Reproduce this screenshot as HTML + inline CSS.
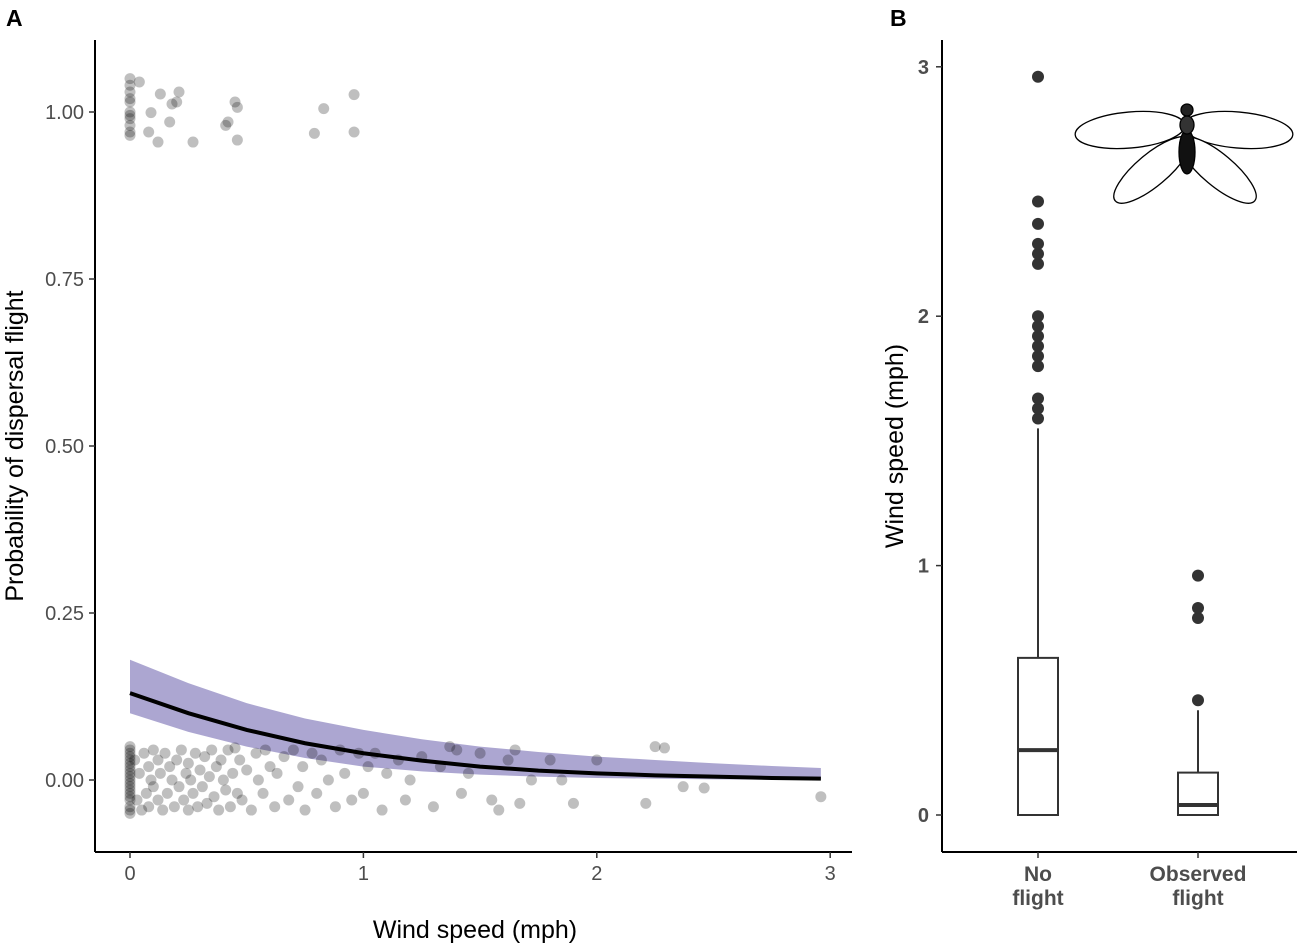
<!DOCTYPE html>
<html><head><meta charset="utf-8"><style>
body{margin:0;background:#fff}
svg{display:block;font-family:"Liberation Sans",Arial,sans-serif}
</style></head><body>
<svg id="chart" width="1299" height="945" viewBox="0 0 1299 945">
<g id="panelA"></g>
<g id="panelB"></g>
</svg>
<script>
// Panel A data
const xTicksA=[0,1,2,3];
const yTicksA=[0,0.25,0.5,0.75,1];
const yTickLabelsA=["0.00","0.25","0.50","0.75","1.00"];
const curveX=[0,0.25,0.5,0.75,1,1.25,1.5,1.75,2,2.25,2.5,2.75,2.96];
const curveFit=[0.13,0.10,0.075,0.055,0.04,0.029,0.02,0.014,0.01,0.007,0.005,0.003,0.002];
const curveUpper=[0.18,0.145,0.115,0.092,0.075,0.061,0.05,0.042,0.035,0.03,0.025,0.021,0.018];
const curveLower=[0.10,0.072,0.05,0.033,0.02,0.013,0.008,0.005,0.003,0.002,0.001,0.0005,0.0002];
const flightX=[0,0,0,0,0,0,0,0,0,0,0,0.04,0.08,0.09,0.12,0.13,0.17,0.18,0.2,0.21,0.27,0.41,0.42,0.45,0.46,0.46,0.79,0.83,0.96,0.96];
const flightY=[1.05,1.04,1.02,1.015,1.0,0.99,0.98,0.97,0.965,1.03,0.995,1.045,0.97,0.999,0.955,1.027,0.985,1.012,1.015,1.03,0.955,0.98,0.985,1.015,1.007,0.958,0.968,1.005,1.026,0.97];
const noFlightX=[0,0,0,0,0,0,0,0,0,0,0,0,0,0,0,0,0,0,0,0,0.02,0.03,0.04,0.05,0.06,0.07,0.08,0.08,0.09,0.1,0.1,0.12,0.12,0.13,0.14,0.15,0.16,0.17,0.18,0.19,0.2,0.21,0.22,0.23,0.24,0.25,0.25,0.26,0.27,0.28,0.29,0.3,0.31,0.32,0.33,0.34,0.35,0.36,0.37,0.38,0.39,0.4,0.41,0.42,0.43,0.44,0.45,0.46,0.47,0.48,0.5,0.52,0.54,0.55,0.57,0.58,0.6,0.62,0.63,0.66,0.68,0.7,0.72,0.74,0.75,0.78,0.8,0.82,0.85,0.88,0.9,0.92,0.95,0.98,1.0,1.02,1.05,1.08,1.1,1.15,1.18,1.2,1.25,1.3,1.33,1.37,1.4,1.42,1.45,1.5,1.55,1.58,1.62,1.65,1.67,1.72,1.8,1.85,1.9,2.0,2.21,2.25,2.29,2.37,2.46,2.96];
const noFlightY=[0.05,0.04,0.03,0.02,0.01,0,-0.01,-0.02,-0.03,-0.04,-0.05,0.045,0.035,0.025,0.015,0.005,-0.005,-0.015,-0.025,-0.045,0.03,-0.03,0.01,-0.045,0.04,-0.02,0.02,-0.04,0.0,0.045,-0.01,0.03,-0.03,0.01,-0.045,0.04,-0.02,0.02,0.0,-0.04,0.03,-0.01,0.045,-0.03,0.01,-0.045,0.025,0.0,-0.02,0.04,-0.04,0.015,-0.01,0.035,-0.035,0.005,0.045,-0.025,0.02,-0.045,0.03,0.0,-0.015,0.045,-0.04,0.01,0.048,-0.02,0.03,-0.03,0.015,-0.045,0.04,0.0,-0.02,0.045,0.02,-0.04,0.01,0.035,-0.03,0.045,-0.01,0.02,-0.045,0.04,-0.02,0.03,0.0,-0.04,0.045,0.01,-0.03,0.04,-0.02,0.02,0.04,-0.045,0.01,0.03,-0.03,0.0,0.035,-0.04,0.02,0.05,0.045,-0.02,0.01,0.04,-0.03,-0.045,0.03,0.045,-0.035,0.0,0.03,0.0,-0.035,0.03,-0.035,0.05,0.048,-0.01,-0.012,-0.025];
// Panel B data
const categoriesB=["No\nflight","Observed\nflight"];
const yTicksB=[0,1,2,3];
const boxQ1=[0,0];
const boxMedian=[0.26,0.04];
const boxQ3=[0.63,0.17];
const whiskerLow=[0,0];
const whiskerHigh=[1.55,0.42];
const outliersNo=[1.59,1.63,1.67,1.8,1.84,1.88,1.92,1.96,2.0,2.21,2.25,2.29,2.37,2.46,2.96];
const outliersObs=[0.46,0.79,0.83,0.96];

const NS="http://www.w3.org/2000/svg";
function mk(parent,tag,attrs,name,text){
  const el=document.createElementNS(NS,tag);
  for(const k in attrs) el.setAttribute(k,attrs[k]);
  
  
  if(text!==undefined) el.textContent=text;
  parent.appendChild(el);return el;
}
const A=document.getElementById('panelA');
const xA=v=>130+v*233.4;
const yA=v=>780-v*668;
let bp="";
curveX.forEach((x,i)=>bp+=(i?"L":"M")+xA(x)+","+yA(curveUpper[i]));
for(let i=curveX.length-1;i>=0;i--) bp+="L"+xA(curveX[i])+","+yA(curveLower[i]);
mk(A,'path',{d:bp+"Z",fill:"#9d97c9",opacity:0.85},'confidence-band');
const nN=Math.min(noFlightX.length,noFlightY.length);
for(let i=0;i<nN;i++) mk(A,'circle',{cx:xA(noFlightX[i]),cy:yA(noFlightY[i]),r:5.5,fill:"#000","fill-opacity":0.25},'no-flight-point');
const nF=Math.min(flightX.length,flightY.length);
for(let i=0;i<nF;i++) mk(A,'circle',{cx:xA(flightX[i]),cy:yA(flightY[i]),r:5.5,fill:"#000","fill-opacity":0.25},'flight-point');
let cp="";
curveX.forEach((x,i)=>cp+=(i?"L":"M")+xA(x)+","+yA(curveFit[i]));
mk(A,'path',{d:cp,fill:"none",stroke:"#000","stroke-width":4},'fitted-curve');
mk(A,'line',{x1:95,y1:40,x2:95,y2:852,stroke:"#000","stroke-width":2},'y-axis-line');
mk(A,'line',{x1:95,y1:852,x2:852,y2:852,stroke:"#000","stroke-width":2},'x-axis-line');
xTicksA.forEach(t=>{mk(A,'line',{x1:xA(t),y1:852,x2:xA(t),y2:858,stroke:"#333","stroke-width":1.5},'x-tick');
 mk(A,'text',{x:xA(t),y:880,"text-anchor":"middle","font-size":20,fill:"#4d4d4d"},'x-tick-label',String(t));});
yTicksA.forEach((t,i)=>{mk(A,'line',{x1:89,y1:yA(t),x2:95,y2:yA(t),stroke:"#333","stroke-width":1.5},'y-tick');
 mk(A,'text',{x:84,y:yA(t)+7,"text-anchor":"end","font-size":20,fill:"#4d4d4d"},'y-tick-label',yTickLabelsA[i]);});
mk(A,'text',{x:475,y:938,"text-anchor":"middle","font-size":25,fill:"#000"},'x-axis-title','Wind speed (mph)');
mk(A,'text',{x:23,y:446,"text-anchor":"middle","font-size":25,fill:"#000",transform:"rotate(-90 23 446)"},'y-axis-title','Probability of dispersal flight');
mk(A,'text',{x:6,y:26,"font-size":23,"font-weight":"bold",fill:"#000"},'panel-label-a','A');

const B=document.getElementById('panelB');
const yB=v=>815-v*249.4;
const cx=[1038,1198];
mk(B,'line',{x1:942,y1:40,x2:942,y2:852,stroke:"#000","stroke-width":2},'y-axis-line-b');
mk(B,'line',{x1:942,y1:852,x2:1297,y2:852,stroke:"#000","stroke-width":2},'x-axis-line-b');
yTicksB.forEach(t=>{mk(B,'line',{x1:936,y1:yB(t),x2:942,y2:yB(t),stroke:"#333","stroke-width":1.5},'y-tick-b');
 mk(B,'text',{x:929,y:yB(t)+7,"text-anchor":"end","font-size":20,"font-weight":"bold",fill:"#4d4d4d"},'y-tick-label-b',String(t));});
categoriesB.forEach((c,i)=>{mk(B,'line',{x1:cx[i],y1:852,x2:cx[i],y2:858,stroke:"#333","stroke-width":1.5},'x-tick-b');
 const parts=c.split("\n");
 parts.forEach((p,j)=>mk(B,'text',{x:cx[i],y:881+j*24,"text-anchor":"middle","font-size":21,"font-weight":"bold",fill:"#4d4d4d"},'category-label',p));
 mk(B,'line',{x1:cx[i],y1:yB(boxQ3[i]),x2:cx[i],y2:yB(whiskerHigh[i]),stroke:"#333","stroke-width":2},'whisker');
 mk(B,'rect',{x:cx[i]-20,y:yB(boxQ3[i]),width:40,height:yB(boxQ1[i])-yB(boxQ3[i]),fill:"#fff",stroke:"#333","stroke-width":2},'box');
 mk(B,'line',{x1:cx[i]-20,y1:yB(boxMedian[i]),x2:cx[i]+20,y2:yB(boxMedian[i]),stroke:"#333","stroke-width":4},'median-line');
});
outliersNo.forEach(v=>mk(B,'circle',{cx:cx[0],cy:yB(v),r:6,fill:"#333"},'outlier-no-flight'));
outliersObs.forEach(v=>mk(B,'circle',{cx:cx[1],cy:yB(v),r:6,fill:"#333"},'outlier-observed-flight'));
mk(B,'text',{x:903,y:446,"text-anchor":"middle","font-size":25,fill:"#000",transform:"rotate(-90 903 446)"},'y-axis-title-b','Wind speed (mph)');
mk(B,'text',{x:890,y:26,"font-size":23,"font-weight":"bold",fill:"#000"},'panel-label-b','B');
const g=mk(B,'g',{fill:"#fff",stroke:"#000","stroke-width":1.3},'insect-icon');
mk(g,'ellipse',{cx:1130,cy:130,rx:55,ry:18,transform:"rotate(-5 1130 130)"},'left-forewing');
mk(g,'ellipse',{cx:1238,cy:130,rx:55,ry:18,transform:"rotate(5 1238 130)"},'right-forewing');
mk(g,'ellipse',{cx:1152,cy:170,rx:48,ry:16,transform:"rotate(-40 1152 170)"},'left-hindwing');
mk(g,'ellipse',{cx:1218,cy:170,rx:48,ry:16,transform:"rotate(40 1218 170)"},'right-hindwing');
mk(g,'ellipse',{cx:1187,cy:152,rx:8,ry:22,fill:"#111"},'abdomen');
mk(g,'ellipse',{cx:1187,cy:125,rx:7,ry:9,fill:"#333"},'thorax');
mk(g,'circle',{cx:1187,cy:110,r:6,fill:"#222"},'head');
</script>
</body></html>
